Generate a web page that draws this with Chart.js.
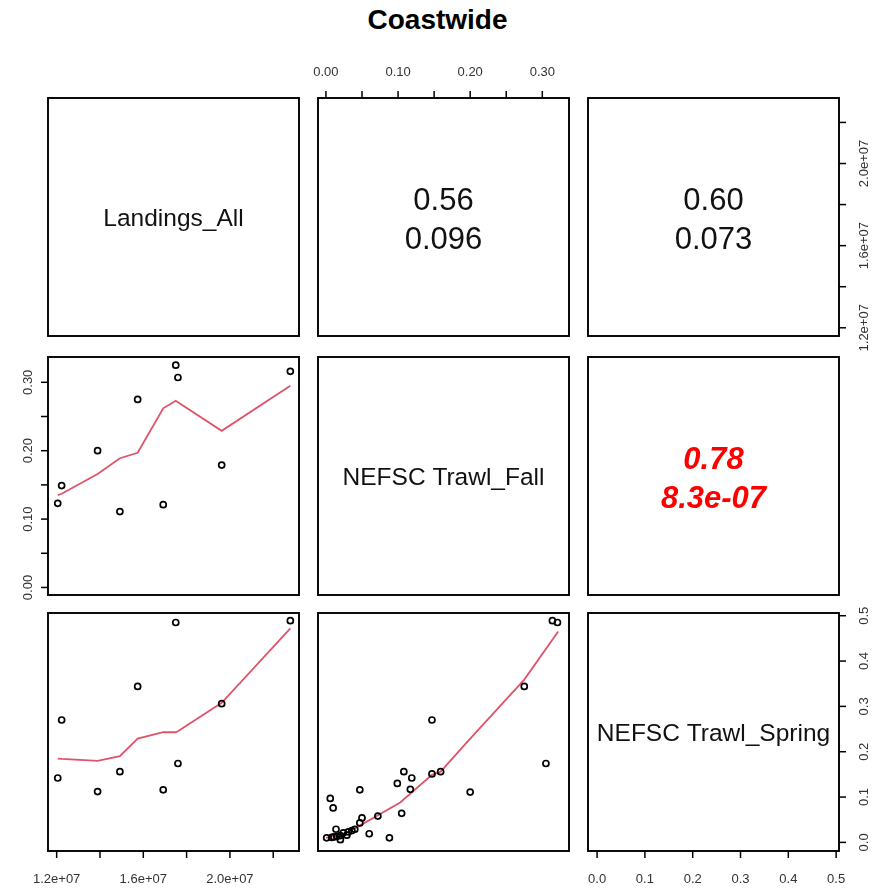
<!DOCTYPE html>
<html>
<head>
<meta charset="utf-8">
<title>Coastwide</title>
<script src="https://cdn.jsdelivr.net/npm/chart.js@4.4.0/dist/chart.umd.min.js"></script>
<style>
  body { margin: 0; background: #fff; }
  #wrap { position: relative; width: 875px; height: 892px; }
  #wrap canvas { position: absolute; left: 0; top: 0; }
  #title {
    position: absolute; left: 0; top: 4px; width: 875px; text-align: center;
    font: bold 28px 'Liberation Sans', Arial, sans-serif; color: #000;
  }
</style>
</head>
<body>
<div id="wrap">
  <div id="title">Coastwide</div>
</div>
<script>
// Variable names (diagonal)
const varNames = ['Landings_All', 'NEFSC Trawl_Fall', 'NEFSC Trawl_Spring'];

// Years that have landings (10 points)
const landings = [12.05e6, 12.23e6, 13.89e6, 14.92e6, 15.74e6, 16.92e6, 17.50e6, 17.60e6, 19.62e6, 22.79e6];
const fallWithLandings = [0.123, 0.149, 0.200, 0.111, 0.275, 0.121, 0.325, 0.307, 0.179, 0.316];
const springWithLandings = [0.142, 0.270, 0.112, 0.156, 0.344, 0.116, 0.485, 0.174, 0.306, 0.489];

// Smoother values at the landings points
const fallSmooth = [0.135, 0.137, 0.166, 0.189, 0.197, 0.262, 0.273, 0.271, 0.229, 0.295];
const springSmooth = [0.185, 0.184, 0.180, 0.190, 0.229, 0.243, 0.243, 0.245, 0.308, 0.472];

// All survey years (fall vs spring)
const fallAll = [0.314, 0.321, 0.275, 0.147, 0.305, 0.108, 0.119, 0.147, 0.159, 0.099,
                 0.117, 0.047, 0.200, 0.006, 0.010, 0.105, 0.072, 0.050, 0.060, 0.088,
                 0.014, 0.047, 0.040, 0.031, 0.024, 0.020, 0.015, 0.008, 0.001, 0.020,
                 0.036, 0.029, 0.011];
const springAll = [0.489, 0.485, 0.344, 0.270, 0.174, 0.156, 0.142, 0.151, 0.156, 0.130,
                   0.117, 0.116, 0.111, 0.097, 0.076, 0.064, 0.058, 0.054, 0.019, 0.010,
                   0.029, 0.043, 0.029, 0.023, 0.021, 0.015, 0.013, 0.011, 0.010, 0.006,
                   0.026, 0.016, 0.012];

// Smoother for fall vs spring
const fsSmoothX = [0.000, 0.024, 0.047, 0.072, 0.103, 0.147, 0.159, 0.195, 0.241, 0.275, 0.322];
const fsSmoothY = [0.010, 0.018, 0.037, 0.060, 0.088, 0.149, 0.156, 0.220, 0.300, 0.359, 0.465];

// Upper panels: correlation and p-value, order (1,2), (1,3), (2,3)
const corrValues = ['0.56', '0.60', '0.78'];
const corrPValues = ['0.096', '0.073', '8.3e-07'];
const corrSignificant = [false, false, true];

// Axis ticks
const landingsTicks = [1.2e7, 1.4e7, 1.6e7, 1.8e7, 2.0e7, 2.2e7];
const landingsTickLabels = ['1.2e+07', '', '1.6e+07', '', '2.0e+07', ''];
const fallTicks = [0, 0.05, 0.10, 0.15, 0.20, 0.25, 0.30];
const fallTickLabels = ['0.00', '', '0.10', '', '0.20', '', '0.30'];
const springTicks = [0, 0.1, 0.2, 0.3, 0.4, 0.5];
const springTickLabels = ['0.0', '0.1', '0.2', '0.3', '0.4', '0.5'];

// Layout
const W = 875, H = 892;
const colLeft = [48, 318, 588];
const rowTop = [98, 357, 613];
const panelW = 251, panelH = 238;
const ranges = [[11.6e6, 23.19e6], [-0.011, 0.337], [-0.019, 0.506]];
const ticksFor = [landingsTicks, fallTicks, springTicks];
const tickLabelsFor = [landingsTickLabels, fallTickLabels, springTickLabels];

const FONT = "'Liberation Sans', Arial, sans-serif";
const SMOOTH_COLOR = '#DF536B';

function toPoints(xs, ys) {
    return xs.map((x, i) => ({ x: x, y: ys[i] }));
}

// Draw one axis on a side of the panel
function drawAxis(chart, side, varIdx) {
    const ctx = chart.ctx;
    const a = chart.chartArea;
    const ticks = ticksFor[varIdx];
    const labels = tickLabelsFor[varIdx];
    const horiz = side === 'top' || side === 'bottom';
    const scale = horiz ? chart.scales.x : chart.scales.y;
    ctx.save();
    ctx.strokeStyle = '#000';
    ctx.lineWidth = 1.5;
    ctx.fillStyle = '#333';
    ctx.font = '13px ' + FONT;
    ctx.textAlign = 'center';
    ctx.textBaseline = 'middle';
    ticks.forEach((t, i) => {
        const p = scale.getPixelForValue(t);
        ctx.beginPath();
        if (side === 'top') { ctx.moveTo(p, a.top); ctx.lineTo(p, a.top - 7); }
        if (side === 'bottom') { ctx.moveTo(p, a.bottom); ctx.lineTo(p, a.bottom + 7); }
        if (side === 'left') { ctx.moveTo(a.left, p); ctx.lineTo(a.left - 7, p); }
        if (side === 'right') { ctx.moveTo(a.right, p); ctx.lineTo(a.right + 7, p); }
        ctx.stroke();
        if (!labels[i]) return;
        if (side === 'top') ctx.fillText(labels[i], p, a.top - 26);
        if (side === 'bottom') ctx.fillText(labels[i], p, a.bottom + 28);
        if (side === 'left' || side === 'right') {
            const x = side === 'left' ? a.left - 20 : a.right + 25;
            ctx.save();
            ctx.translate(x, p);
            ctx.rotate(-Math.PI / 2);
            ctx.fillText(labels[i], 0, 0);
            ctx.restore();
        }
    });
    ctx.restore();
}

function makePanelPlugin(r, c) {
    return {
        id: 'pairsPanel',
        afterDraw(chart) {
            const ctx = chart.ctx;
            const a = chart.chartArea;
            const cx = (a.left + a.right) / 2;
            const cy = (a.top + a.bottom) / 2;

            // panel box
            ctx.save();
            ctx.strokeStyle = '#000';
            ctx.lineWidth = 1.9;
            ctx.strokeRect(a.left, a.top, a.right - a.left, a.bottom - a.top);

            ctx.textAlign = 'center';
            ctx.textBaseline = 'middle';
            if (r === c) {
                ctx.fillStyle = '#111';
                ctx.font = '24.5px ' + FONT;
                ctx.fillText(varNames[r], cx, cy + 2);
            } else if (c > r) {
                const k = r === 0 ? c - 1 : 2;
                if (corrSignificant[k]) {
                    ctx.fillStyle = '#FF0000';
                    ctx.font = 'italic bold 31px ' + FONT;
                } else {
                    ctx.fillStyle = '#111';
                    ctx.font = '31px ' + FONT;
                }
                ctx.fillText(corrValues[k], cx, cy - 16);
                ctx.fillText(corrPValues[k], cx, cy + 23);
            }
            ctx.restore();

            // outer axes, alternating like R's pairs()
            if (r === 0 && c % 2 === 1) drawAxis(chart, 'top', c);
            if (r === 2 && c % 2 === 0) drawAxis(chart, 'bottom', c);
            if (c === 0 && r % 2 === 1) drawAxis(chart, 'left', r);
            if (c === 2 && r % 2 === 0) drawAxis(chart, 'right', r);
        }
    };
}

function pointSet(data) {
    return {
        data: data,
        showLine: false,
        pointRadius: 3,
        pointBorderWidth: 1.7,
        pointBorderColor: '#000',
        pointBackgroundColor: 'rgba(0,0,0,0)'
    };
}

function lineSet(data) {
    return {
        data: data,
        showLine: true,
        borderColor: SMOOTH_COLOR,
        borderWidth: 1.8,
        pointRadius: 0,
        tension: 0
    };
}

function panelDatasets(r, c) {
    if (r === 1 && c === 0) {
        return [pointSet(toPoints(landings, fallWithLandings)), lineSet(toPoints(landings, fallSmooth))];
    }
    if (r === 2 && c === 0) {
        return [pointSet(toPoints(landings, springWithLandings)), lineSet(toPoints(landings, springSmooth))];
    }
    if (r === 2 && c === 1) {
        return [pointSet(toPoints(fallAll, springAll)), lineSet(toPoints(fsSmoothX, fsSmoothY))];
    }
    return [];
}

const wrap = document.getElementById('wrap');

for (let r = 0; r < 3; r++) {
    for (let c = 0; c < 3; c++) {
        const canvas = document.createElement('canvas');
        canvas.width = W;
        canvas.height = H;
        wrap.appendChild(canvas);
        new Chart(canvas, {
            type: 'scatter',
            data: { datasets: panelDatasets(r, c) },
            options: {
                responsive: false,
                animation: false,
                devicePixelRatio: 1,
                layout: {
                    padding: {
                        left: colLeft[c],
                        top: rowTop[r],
                        right: W - colLeft[c] - panelW,
                        bottom: H - rowTop[r] - panelH
                    }
                },
                scales: {
                    x: { type: 'linear', display: false, min: ranges[c][0], max: ranges[c][1] },
                    y: { type: 'linear', display: false, min: ranges[r][0], max: ranges[r][1] }
                },
                plugins: {
                    legend: { display: false },
                    tooltip: { enabled: false }
                }
            },
            plugins: [makePanelPlugin(r, c)]
        });
    }
}
</script>
</body>
</html>
